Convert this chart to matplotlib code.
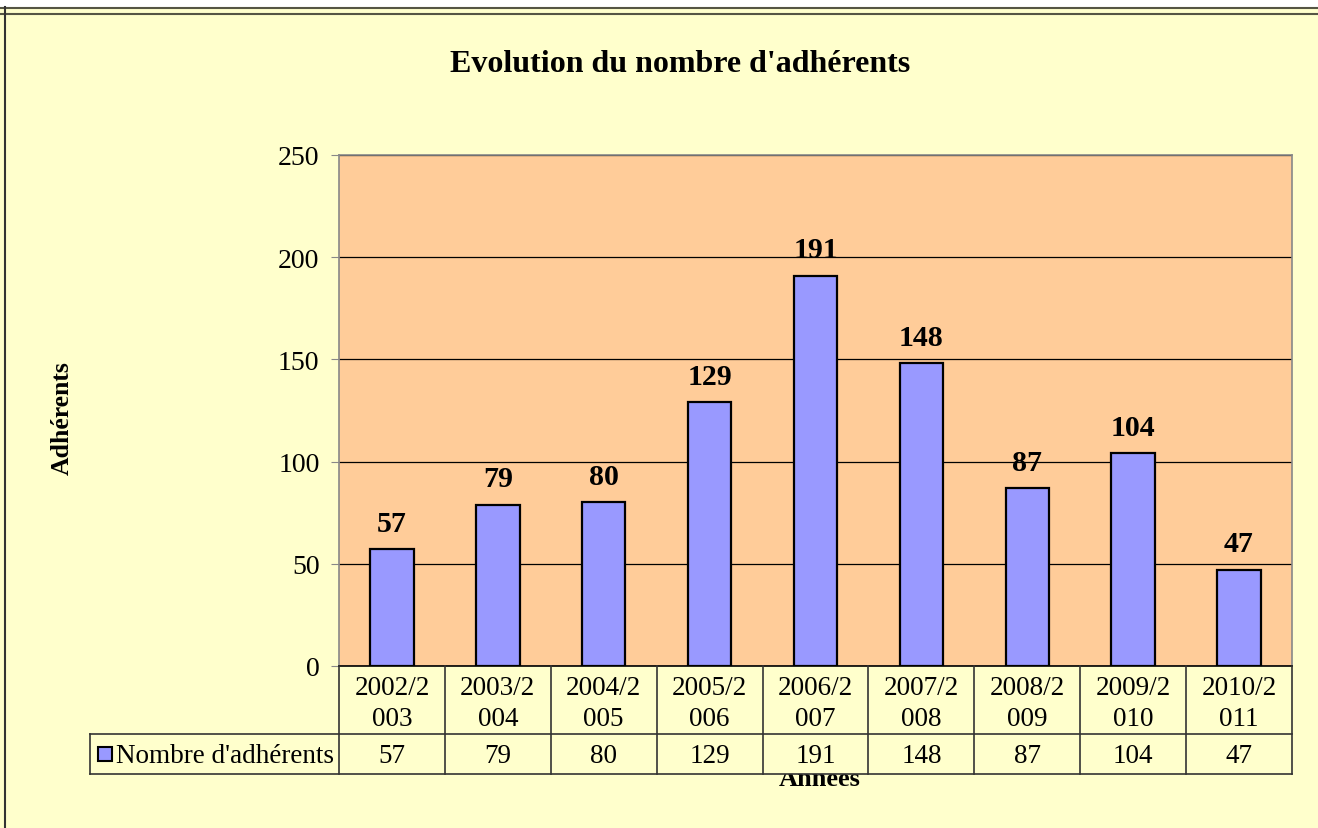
import numpy as np
import matplotlib.pyplot as plt
from matplotlib.patches import Rectangle
from matplotlib.lines import Line2D

seasons = ["2002/2\n003", "2003/2\n004", "2004/2\n005", "2005/2\n006", "2006/2\n007",
           "2007/2\n008", "2008/2\n009", "2009/2\n010", "2010/2\n011"]
adherents = [57, 79, 80, 129, 191, 148, 87, 104, 47]
series_name = "Nombre d'adhérents"
yticks = [0, 50, 100, 150, 200, 250]

plt.rcParams['font.family'] = ['Liberation Serif', 'DejaVu Serif']

W, H = 1318, 829
fig = plt.figure(figsize=(W / 100, H / 100), dpi=100, facecolor='#FFFFCC')

# screenshot frame at the top / left
fig.add_artist(Rectangle((0, 1 - 8 / H), 1, 8 / H, transform=fig.transFigure,
                         facecolor='white', edgecolor='none'))
for yy in (8.5, 14.5):
    fig.add_artist(Line2D([0, 1], [1 - yy / H] * 2, transform=fig.transFigure,
                          color='#555544', lw=1.5))
fig.add_artist(Line2D([5 / W] * 2, [0, 1 - 8 / H], transform=fig.transFigure,
                      color='#333333', lw=1.5))

left, right, top, bottom = 339, 1292, 156, 667
ax = fig.add_axes([left / W, 1 - bottom / H, (right - left) / W, (bottom - top) / H])
ax.set_facecolor('#FFCC99')

x = np.arange(len(adherents))
bars = ax.bar(x, adherents, width=0.41, color='#9999FF', edgecolor='black',
              linewidth=1.6, zorder=3)
for xi, v in zip(x, adherents):
    ax.annotate(str(v), (xi, v), xytext=(0, 9), textcoords='offset points',
                ha='center', va='bottom', fontsize=21.5, fontweight='bold')

ax.set_xlim(-0.5, len(adherents) - 0.5)
ax.set_ylim(0, 250)
ax.set_yticks(yticks)
ax.yaxis.grid(True, color='black', lw=0.9, zorder=0)
ax.set_axisbelow(True)
ax.tick_params(axis='y', labelsize=20, length=6, color='#888888', pad=8,
               direction='out')
ax.set_xticks([])
for s in ('top', 'right', 'left'):
    ax.spines[s].set_color('#888888')
    ax.spines[s].set_linewidth(1.2)
ax.spines['bottom'].set_color('black')
ax.spines['bottom'].set_linewidth(1.2)

# data table below the axes
ph = bottom - top
pw = right - left
r1 = -(735 - bottom) / ph
r2 = -(775 - bottom) / ph
lx = (90 - left) / pw
n = len(adherents)
lc = '#333333'
ax.text((820 - left) / pw, -(780 - bottom) / ph, "Années",
        transform=ax.transAxes, ha='center', va='center', fontsize=19,
        fontweight='bold', zorder=1, clip_on=False)
ax.add_patch(Rectangle((0, r2), 1, -r2, transform=ax.transAxes, facecolor='#FFFFCC',
                       edgecolor='none', clip_on=False, zorder=2))
ax.add_patch(Rectangle((lx, r2), -lx, r1 - r2, transform=ax.transAxes,
                       facecolor='#FFFFCC', edgecolor='none', clip_on=False, zorder=2))
for i in range(n + 1):
    ax.add_line(Line2D([i / n] * 2, [0, r2], transform=ax.transAxes, color=lc,
                       lw=1.2, clip_on=False, zorder=4))
ax.add_line(Line2D([lx, 1], [r1] * 2, transform=ax.transAxes, color=lc, lw=1.2,
                   clip_on=False, zorder=4))
ax.add_line(Line2D([lx, 1], [r2] * 2, transform=ax.transAxes, color=lc, lw=1.2,
                   clip_on=False, zorder=4))
ax.add_line(Line2D([lx] * 2, [r1, r2], transform=ax.transAxes, color=lc, lw=1.2,
                   clip_on=False, zorder=4))
for i, (lab, v) in enumerate(zip(seasons, adherents)):
    ax.text((i + 0.5) / n, r1 / 2 - 3 / ph, lab, transform=ax.transAxes, ha='center',
            va='center', fontsize=19.5, linespacing=1.3, zorder=5)
    ax.text((i + 0.5) / n, (r1 + r2) / 2 - 2 / ph, str(v), transform=ax.transAxes,
            ha='center', va='center', fontsize=19.5, zorder=5)
ax.add_patch(Rectangle((lx + 8 / pw, (r1 + r2) / 2 - 7 / ph), 14 / pw, 14 / ph,
                       transform=ax.transAxes, facecolor='#9999FF', edgecolor='black',
                       lw=1.5, clip_on=False, zorder=5))
ax.text(lx + 26 / pw, (r1 + r2) / 2 - 2 / ph, series_name, transform=ax.transAxes,
        ha='left', va='center', fontsize=19.5, zorder=5)

fig.text(680 / W, 1 - 65 / H, "Evolution du nombre d'adhérents", ha='center',
         va='center', fontsize=23, fontweight='bold')
fig.text(62 / W, 1 - 418 / H, "Adhérents", ha='center', va='center', rotation=90,
         fontsize=18.5, fontweight='bold')

fig.savefig('out.png', dpi=100, facecolor=fig.get_facecolor())
